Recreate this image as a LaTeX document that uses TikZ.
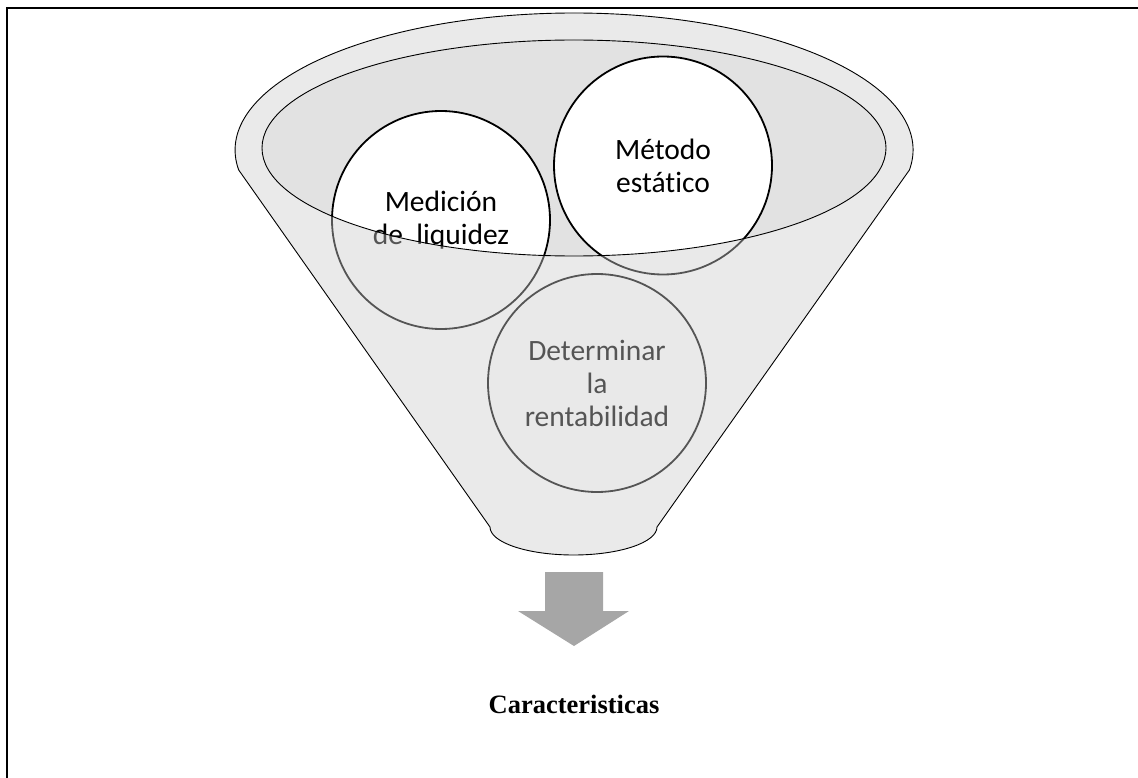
\documentclass[tikz,border=0pt]{standalone}
\usepackage{fontspec}
\setmainfont{Carlito}[Ligatures=NoCommon]
\newfontfamily\timesf{Liberation Serif}
\definecolor{innerfill}{HTML}{E2E2E2}
\definecolor{veil}{HTML}{CCCCCC}
\definecolor{arrowgray}{HTML}{A6A6A6}
\tikzset{
  circnode/.style={circle, draw=black, line width=1.8pt, fill=white, minimum size=218pt, inner sep=0pt, align=center, font=\fontsize{29.5}{33}\selectfont, text=black},
  thinline/.style={draw=black, line width=0.9pt},
  framelinestyle/.style={draw=black, line width=2.3pt}
}
\begin{document}
\begin{tikzpicture}[x=1pt,y=1pt]
\useasboundingbox (0,0) rectangle (1138,-778);
% frame (top and left)
\draw[framelinestyle] (6.7,-778) -- (6.7,-7.8) -- (1138,-7.8);
% inner ellipse fill
\fill[innerfill] (574,-148) ellipse [x radius=312, y radius=108];
% circles
\node[circnode] (med) at (441,-220) {Medición\\de~~liquidez};
\node[circnode] (met) at (663,-165.5) {Método\\estático};
\node[circnode] (det) at (597,-383) {Determinar\\la\\rentabilidad};
% translucent funnel body
\fill[veil, fill opacity=0.42, even odd rule]
  (909.4,-170) arc[start angle=-8.4, end angle=188.4, x radius=339, y radius=137]
  -- (490,-527) arc[start angle=180, end angle=360, x radius=83.5, y radius=28]
  -- cycle
  (574,-148) ellipse [x radius=312, y radius=108];
% outlines
\draw[thinline]
  (909.4,-170) arc[start angle=-8.4, end angle=188.4, x radius=339, y radius=137]
  -- (490,-527) arc[start angle=180, end angle=360, x radius=83.5, y radius=28]
  -- cycle;
\draw[thinline] (574,-148) ellipse [x radius=312, y radius=108];
% arrow
\fill[arrowgray] (545,-572) -- (603,-572) -- (603,-611) -- (629,-611) -- (574,-646) -- (518,-611) -- (545,-611) -- cycle;
% label
\node[anchor=base, inner sep=0pt, font=\timesf\bfseries\fontsize{26.5}{30}\selectfont] (car) at (574,-713) {Caracteristicas};
\end{tikzpicture}
\end{document}
